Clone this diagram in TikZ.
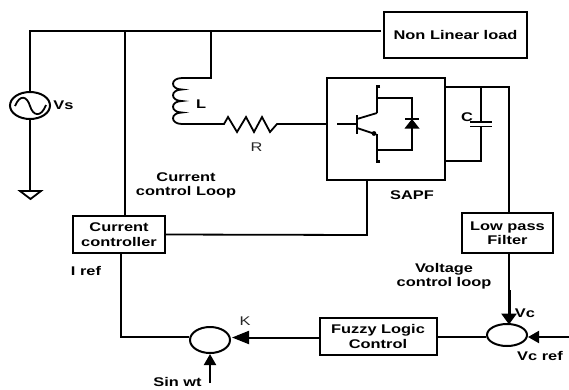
\documentclass[tikz,border=0pt]{standalone}
\usepackage{fontspec}
\setmainfont{Liberation Sans}
\newfontfamily\lblb[FakeStretch=1.3]{Liberation Sans Bold}
\newfontfamily\lblr[FakeStretch=1.3]{Liberation Sans}
\usetikzlibrary{arrows.meta}
\usetikzlibrary{shapes.geometric}
\tikzset{
  wire/.style={draw=black,line width=1.8pt},
  thick wire/.style={draw=black,line width=2.3pt},
  blockbox/.style={draw=black,line width=2pt,inner sep=0pt,align=center,font=\lblb\fontsize{12.6}{14.5}\selectfont},
  lab/.style={inner sep=0pt,align=center,font=\lblb\fontsize{12.6}{14}\selectfont,text=black},
  labr/.style={inner sep=0pt,align=center,font=\lblr\fontsize{12.6}{14}\selectfont,text=black!85},
  arrowed/.style={-{Triangle[length=17pt,width=13pt]},line width=2pt,draw=black},
  arrowedvc/.style={-{Triangle[length=11pt,width=15pt]},line width=3pt,draw=black},
  arrowedsm/.style={-{Triangle[length=11pt,width=12pt]},line width=2pt,draw=black},
  sumjoint/.style={draw=black,line width=2pt,ellipse,inner sep=0pt}
}
\begin{document}
\begin{tikzpicture}[x=1pt,y=-1pt]
\useasboundingbox (0,0) rectangle (569,389);
% blocks
\node[blockbox,minimum width=143pt,minimum height=46pt] (load) at (455.5,35) {Non Linear load};
\node[blockbox,minimum width=118pt,minimum height=102pt] (sapf) at (386,129) {};
\node[blockbox,minimum width=92pt,minimum height=37pt] (cc) at (119,234.5) {Current\\controller};
\node[blockbox,minimum width=91pt,minimum height=40pt] (lpf) at (507.5,233) {Low pass\\Filter};
\node[blockbox,minimum width=117pt,minimum height=37pt] (flc) at (378,336.5) {Fuzzy Logic\\Control};
\node[sumjoint,minimum width=40pt,minimum height=26pt] (sum1) at (210,340) {};
\node[sumjoint,minimum width=40pt,minimum height=22pt] (sum2) at (507,335) {};
\node[sumjoint,minimum width=40pt,minimum height=27pt] (vs) at (30,105.5) {};
% source sine
\draw[wire] (15,106) .. controls (20,94) and (27,96) .. (30,106) .. controls (33,116) and (41,118) .. (46,105);
% coordinates
\coordinate (tl) at (30,31);
\coordinate (te) at (381,31);
\coordinate (gnd) at (30,191);
\coordinate (j1) at (125,31);
\coordinate (j2) at (211,31);
\coordinate (lt) at (211,78);
\coordinate (lb) at (182,124);
\coordinate (rs) at (224,124);
\coordinate (re) at (277,124);
% top rail and source
\draw[wire] (te) -- (tl) -- (vs.north);
\draw[wire] (vs.south) -- (gnd);
\draw[wire] (20,191) -- (41,191) -- (30.5,199) -- cycle;
\draw[thick wire] (j1) -- (cc.north -| j1);
\draw[wire] (j2) -- (lt) -- (182,78);
% inductor
\draw[wire,line cap=round] (182,78) .. controls (170,78) and (170,89.5) .. (182,89.5)
  .. controls (170,89.5) and (170,101) .. (182,101)
  .. controls (170,101) and (170,112.5) .. (182,112.5)
  .. controls (170,112.5) and (170,124) .. (lb);
\draw[wire] (lb) -- (rs) -- (228,117) -- (237,132) -- (246,117) -- (254,132) -- (262,117) -- (270,132) -- (re) -- (sapf.west |- re);
% IGBT
\draw[wire] (337,124) -- (357,124);
\draw[thick wire] (357,115) -- (357,134);
\draw[wire] (357,119) -- (377,113);
\draw[wire] (357,128) -- (375,134);
\fill[black] (374,133.5) circle (2.4);
\draw[thick wire] (380,86.5) -- (377,86.5) -- (377,113);
\draw[thick wire] (380,161.5) -- (377,161.5) -- (377,134);
\draw[wire] (377,98) -- (412,98) -- (412,150) -- (377,150);
\draw[wire] (405,119) -- (419,119);
\fill[black] (412,119) -- (419.5,128.5) -- (404.5,128.5) -- cycle;
% DC side
\coordinate (dct) at (445,87);
\coordinate (dcb) at (445,161);
\coordinate (vl) at (509,87);
\coordinate (vk) at (509,290);
\coordinate (vm) at (509,324.5);
\draw[wire] (dct) -- (vl) -- (lpf.north -| vl);
\draw[wire] (481,87) -- (481,122);
\draw[wire] (481,126.5) -- (481,161) -- (dcb);
\draw[wire] (470,122) -- (492,122);
\draw[wire] (470,126.5) -- (492,126.5);
% controls
\draw[wire] (cc.east) -- (367,235) -- (sapf.south -| 367,0);
\draw[wire] (121,253) -- (121,337) -- (sum1.west |- 0,337);
\draw[arrowed] (flc.west) ++(0,1) -- (232,337.5);
\draw[wire] (flc.east |- 0,337) -- (sum2.west |- 0,337);
\draw[wire] (lpf.south -| vl) -- (vk);
\draw[arrowedvc] (vk) -- (vm);
\draw[arrowedsm] (569,337) -- (528,337);
\draw[arrowedsm] (210,383) -- (sum1.south);
% labels
\node[lab] (tvs) at (63.5,105) {Vs};
\node[lab] (tl2) at (201,104) {L};
\node[labr] (tr) at (256.5,147.5) {R};
\node[lab] (tc) at (186,185) {Current\\control Loop};
\node[lab] (ts) at (412,195.5) {SAPF};
\node[lab] (tcap) at (467,117) {C};
\node[lab] (tv) at (444,276) {Voltage\\control loop};
\node[lab] (tvc) at (525,313) {Vc};
\node[lab] (tvr) at (540,356) {Vc ref};
\node[lab] (tir) at (86,271) {I ref};
\node[labr] (tk) at (245,321) {K};
\node[lab] (tsw) at (177.5,382) {Sin wt};
\end{tikzpicture}
\end{document}
